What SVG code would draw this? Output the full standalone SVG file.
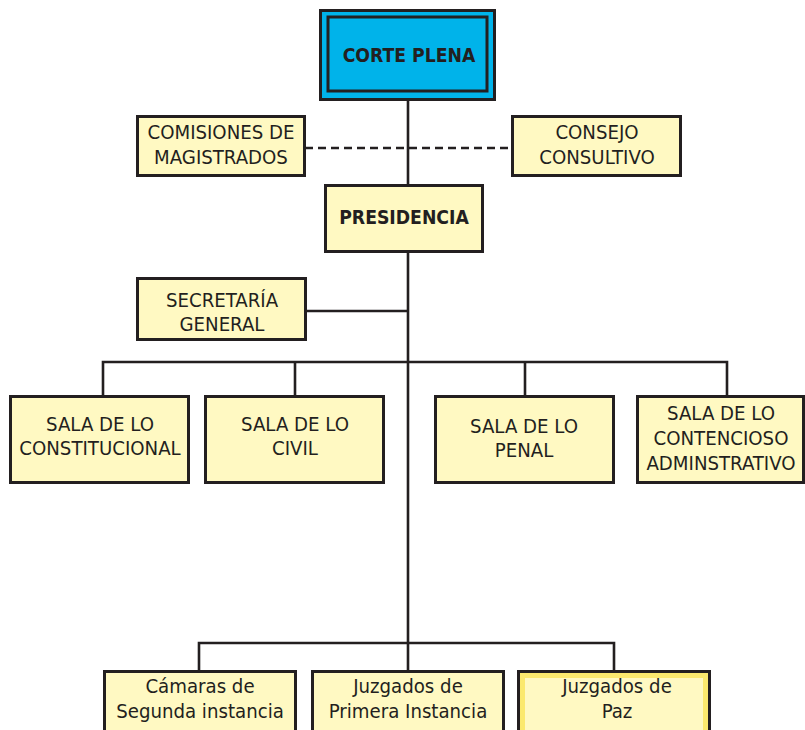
<svg xmlns="http://www.w3.org/2000/svg" width="805" height="730" viewBox="0 0 805 730">
<style>
.box{fill:#fff9c2;stroke:#231f20;stroke-width:3}
.t{font-family:"DejaVu Sans Condensed","DejaVu Sans",sans-serif;font-size:20.2px;fill:#231f20;text-anchor:middle}
.b{font-weight:bold;font-size:19.2px}
.ln{stroke:#231f20;stroke-width:2.6;fill:none}
.dash{stroke:#231f20;stroke-width:2.6;stroke-dasharray:8 5;fill:none}
</style>
<rect width="805" height="730" fill="#ffffff"/>
<g id="connectors">
<line class="ln" x1="408" y1="100" x2="408" y2="671"/>
<line class="dash" x1="305" y1="148" x2="512" y2="148"/>
<line class="ln" x1="306" y1="311" x2="408" y2="311"/>
<polyline class="ln" points="103,396 103,362 727,362 727,396"/>
<line class="ln" x1="295" y1="362" x2="295" y2="396"/>
<line class="ln" x1="525" y1="362" x2="525" y2="396"/>
<polyline class="ln" points="199,671 199,643 614,643 614,671"/>
</g>
<g id="corte-plena">
<rect x="320.5" y="10.5" width="174" height="89" fill="#00b3ea" stroke="#231f20" stroke-width="3"/>
<rect x="328" y="17" width="159" height="74" fill="none" stroke="#231f20" stroke-width="3"/>
<text class="t b" x="409" y="62">CORTE PLENA</text>
</g>
<g id="comisiones">
<rect class="box" x="137.5" y="116.5" width="167" height="59"/>
<text class="t" x="221" y="139">COMISIONES DE</text>
<text class="t" x="221" y="164">MAGISTRADOS</text>
</g>
<g id="consejo">
<rect class="box" x="512.5" y="116.5" width="168" height="59"/>
<text class="t" x="597" y="139">CONSEJO</text>
<text class="t" x="597" y="164">CONSULTIVO</text>
</g>
<g id="presidencia">
<rect class="box" x="325.5" y="185.5" width="157" height="66"/>
<text class="t b" x="404" y="224">PRESIDENCIA</text>
</g>
<g id="secretaria">
<rect class="box" x="137.5" y="278.5" width="168" height="61"/>
<text class="t" x="222" y="307">SECRETARÍA</text>
<text class="t" x="222" y="331">GENERAL</text>
</g>
<g id="sala-constitucional">
<rect class="box" x="10.5" y="396.5" width="178" height="86"/>
<text class="t" x="100" y="431">SALA DE LO</text>
<text class="t" x="100" y="455">CONSTITUCIONAL</text>
</g>
<g id="sala-civil">
<rect class="box" x="205.5" y="396.5" width="178" height="86"/>
<text class="t" x="295" y="431">SALA DE LO</text>
<text class="t" x="295" y="455">CIVIL</text>
</g>
<g id="sala-penal">
<rect class="box" x="435.5" y="396.5" width="178" height="86"/>
<text class="t" x="524" y="433">SALA DE LO</text>
<text class="t" x="524" y="457">PENAL</text>
</g>
<g id="sala-contencioso">
<rect class="box" x="637.5" y="396.5" width="166" height="86"/>
<text class="t" x="721" y="420">SALA DE LO</text>
<text class="t" x="721" y="445">CONTENCIOSO</text>
<text class="t" x="721" y="470">ADMINSTRATIVO</text>
</g>
<g id="camaras">
<rect class="box" x="104.5" y="671.5" width="191" height="70"/>
<text class="t" x="200" y="693">Cámaras de</text>
<text class="t" x="200" y="718">Segunda instancia</text>
</g>
<g id="juzgados-primera">
<rect class="box" x="312.5" y="671.5" width="191" height="70"/>
<text class="t" x="408" y="693">Juzgados de</text>
<text class="t" x="408" y="718">Primera Instancia</text>
</g>
<g id="juzgados-paz">
<rect class="box" x="518.5" y="671.5" width="191" height="70"/>
<rect x="522.5" y="675.5" width="183" height="62" fill="none" stroke="#fbe96e" stroke-width="5"/>
<text class="t" x="617" y="693">Juzgados de</text>
<text class="t" x="617" y="718">Paz</text>
</g>
</svg>
